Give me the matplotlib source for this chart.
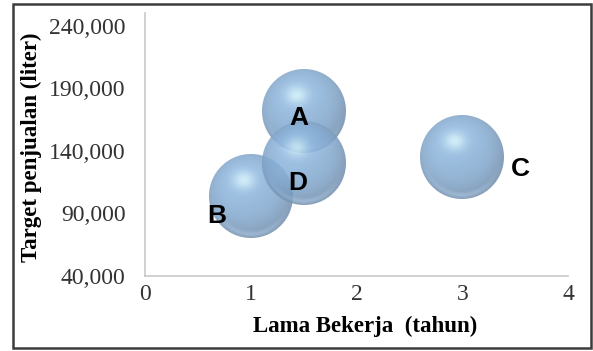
import numpy as np
import matplotlib
matplotlib.use("Agg")
import matplotlib.pyplot as plt
from matplotlib.offsetbox import OffsetImage, AnnotationBbox
from matplotlib.patches import Rectangle

# bubble data: years of work vs. sales target (liter)
names = ["A", "B", "C", "D"]
lama_bekerja = [1.5, 1.0, 3.0, 1.5]
target = [172000, 104000, 135000, 130000]
bubble_size = [1.0, 1.0, 1.0, 1.0]

x_ticks = [0, 1, 2, 3, 4]
y_ticks = [40000, 90000, 140000, 190000, 240000]

# label offsets (pixels) from bubble centre, baseline anchored
label_offsets = {"A": (-5, -14), "B": (-34, -27), "C": (58, -19), "D": (-6, -27)}

W, H, DPI = 593, 351, 100
BASE = np.array([138, 177, 216]) / 255.0
SPINE = "#c8c8c8"


def sphere(radius_px):
    n = int(round(radius_px * 2))
    c = (n - 1) / 2.0
    yy, xx = np.mgrid[0:n, 0:n]
    u = (xx - c) / radius_px
    v = (yy - c) / radius_px
    r = np.sqrt(u ** 2 + v ** 2)
    inside = np.clip((1.0 - r) * radius_px + 0.5, 0, 1)
    rgb = np.ones(u.shape + (3,)) * BASE
    # soft lighting from upper left
    nz = np.sqrt(np.clip(1 - r ** 2, 0, 1))
    diff = np.clip(-0.25 * u - 0.5 * v + 0.83 * nz, 0, 1)
    rgb = rgb * (0.86 + 0.18 * diff)[..., None]
    # shadowed lower-right rim
    side = np.clip(0.55 * u + 0.85 * v, 0, 1)
    dark = np.clip((r - 0.55) / 0.45, 0, 1) ** 1.5 * (0.35 + 0.65 * side)
    grey = np.array([0.42, 0.5, 0.6])
    rgb = rgb * (1 - 0.45 * dark[..., None]) + grey * 0.45 * dark[..., None]
    # faint reflected light along the bottom edge
    refl = np.exp(-((r - 0.9) / 0.06) ** 2) * np.clip(v, 0, 1) ** 2
    rgb = rgb + 0.12 * refl[..., None]
    # specular highlight
    spec = np.exp(-(((u + 0.17) / 0.26) ** 2 + ((v + 0.38) / 0.22) ** 2))
    rgb = rgb * (1 - 0.75 * spec[..., None]) + 0.75 * spec[..., None] * np.array([0.86, 0.98, 1.0])
    rgb = np.clip(rgb, 0, 1)
    alpha = 0.86 * inside
    return np.dstack([rgb, alpha])


fig = plt.figure(figsize=(W / DPI, H / DPI), dpi=DPI)
fig.patch.set_facecolor("white")
ax = fig.add_axes([145 / W, 75 / H, 423 / W, 263 / H])

ax.set_xlim(0, 4)
ax.set_ylim(40000, 250000)
ax.set_xticks(x_ticks)
ax.set_yticks(y_ticks)
ax.set_xticklabels([str(t) for t in x_ticks])
ax.set_yticklabels([f"{t:,}" for t in y_ticks])
ax.tick_params(length=0, labelsize=17, labelcolor="#333333")
ax.tick_params(axis="y", pad=14)
ax.tick_params(axis="x", pad=6)
for lab in ax.get_xticklabels() + ax.get_yticklabels():
    lab.set_family("Liberation Serif")

for side in ("top", "right"):
    ax.spines[side].set_visible(False)
for side in ("left", "bottom"):
    ax.spines[side].set_color(SPINE)
    ax.spines[side].set_linewidth(1.2)

for nm, x, y, s in zip(names, lama_bekerja, target, bubble_size):
    img = sphere(42 * np.sqrt(s))
    ab = AnnotationBbox(OffsetImage(img, zoom=1, dpi_cor=False), (x, y),
                        xycoords="data", frameon=False, pad=0,
                        box_alignment=(0.5, 0.5))
    ax.add_artist(ab)

for nm, x, y in zip(names, lama_bekerja, target):
    dx, dy = label_offsets[nm]
    ax.annotate(nm, (x, y), xytext=(dx, dy), textcoords="offset pixels",
                ha="center", va="baseline", fontsize=19, fontweight="bold",
                family="Liberation Sans", color="black", zorder=5)

ax.set_xlabel("Lama Bekerja  (tahun)", family="Liberation Serif",
              fontweight="bold", fontsize=16.5)
ax.set_ylabel("Target penjualan (liter)", family="Liberation Serif",
              fontweight="bold", fontsize=16.5)
ax.xaxis.set_label_coords((365 - 145) / 423, -(316 - 276) / 263)
ax.yaxis.set_label_coords(-(145 - 42) / 423, 0.49)

fig.add_artist(Rectangle((13 / W, 3 / H), 578 / W, 344 / H,
                         transform=fig.transFigure, fill=False,
                         edgecolor="#3c3c3c", linewidth=1.8))

fig.savefig("out.png", dpi=DPI, facecolor="white")
